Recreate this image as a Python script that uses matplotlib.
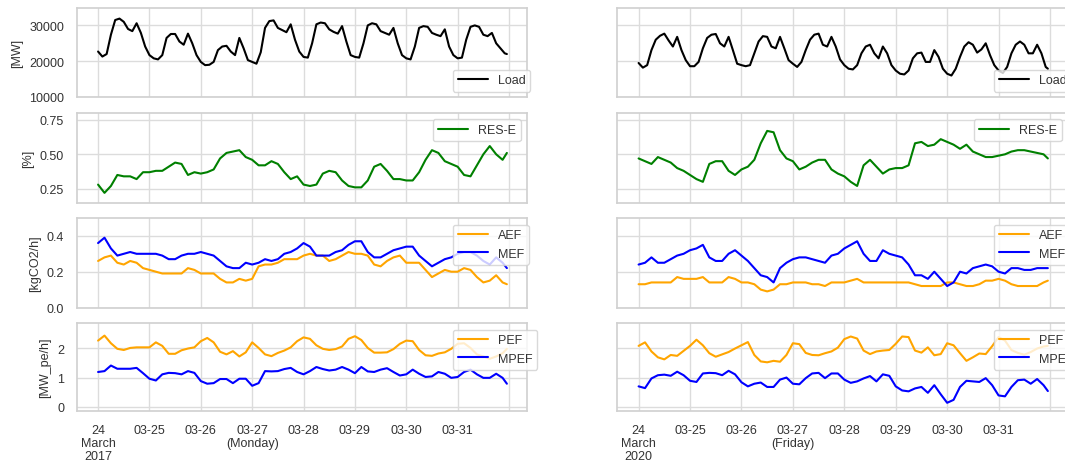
import matplotlib
matplotlib.use('Agg')
import matplotlib.pyplot as plt
import pandas as pd
import seaborn as sns

sns.set_theme(style='whitegrid')
plt.rcParams['font.family'] = ['Liberation Sans', 'DejaVu Sans']

# ---- data (load: 2-hourly, others: 3-hourly, last value = 23:00 Mar 31) ----
load_2017 = [22700, 21300, 22000, 27400, 31500, 31900, 31000, 29000, 28400, 30600, 27900, 24100,
             21700, 20800, 20500, 21700, 26500, 27600, 27600, 25500, 24600, 27700, 25000, 21700,
             19800, 18900, 19000, 19800, 23100, 24100, 24300, 22700, 21700, 26500, 23600, 20300,
             19800, 19300, 22500, 29300, 31200, 31400, 29300, 28700, 28100, 30300, 26000, 22700,
             21200, 21000, 25000, 30300, 30800, 30600, 28900, 28200, 27700, 29800, 25500, 21700,
             21200, 21000, 25000, 30000, 30600, 30300, 28400, 27900, 27400, 29300, 25000, 21700,
             20800, 20500, 24100, 29300, 29800, 29600, 27900, 27400, 27000, 28900, 24100, 21700,
             20800, 21000, 26000, 29600, 30000, 29600, 27400, 27000, 27900, 25000, 23600, 22200,
             22000]
load_2020 = [19500, 18200, 18900, 23100, 26000, 27100, 27700, 25800, 24100, 26800, 23100, 20300,
             18600, 18600, 19800, 23600, 26500, 27400, 27600, 25000, 24100, 26800, 23100, 19300,
             18900, 18600, 18900, 22200, 25500, 27000, 26800, 24100, 23600, 26800, 23600, 20300,
             19300, 18400, 19800, 23100, 26000, 27400, 27700, 24600, 24100, 26800, 24100, 20500,
             18900, 17900, 17700, 18900, 22200, 24100, 24600, 22200, 20800, 24100, 22200, 18900,
             17400, 16500, 16300, 17400, 20800, 22200, 22400, 19800, 19800, 23100, 21200, 17900,
             16500, 16000, 17900, 21200, 24100, 25300, 24600, 22400, 23300, 25000, 21700, 18900,
             17400, 16700, 18400, 22200, 24600, 25500, 24600, 22200, 22200, 24600, 22200, 18400,
             17900]

res_2017 = [.28, .22, .27, .35, .34, .34, .32, .37, .37, .38, .38, .41, .44, .43, .35, .37,
            .36, .37, .39, .47, .51, .52, .53, .48, .46, .42, .42, .45, .43, .37, .32, .34,
            .28, .27, .28, .36, .38, .37, .31, .27, .26, .26, .31, .41, .43, .38, .32, .32,
            .31, .31, .37, .46, .53, .51, .45, .43, .41, .35, .34, .42, .50, .56, .50, .46, .51]
res_2020 = [.47, .45, .43, .48, .46, .44, .40, .38, .35, .32, .30, .43, .45, .45, .38, .35,
            .39, .41, .46, .58, .67, .66, .53, .47, .45, .39, .41, .44, .46, .46, .39, .36,
            .34, .30, .27, .42, .46, .41, .36, .39, .40, .40, .42, .58, .59, .56, .57, .61,
            .59, .57, .54, .57, .52, .50, .48, .48, .49, .50, .52, .53, .53, .52, .51, .50, .47]

aef_2017 = [.26, .28, .29, .25, .24, .26, .25, .22, .21, .20, .19, .19, .19, .19, .22, .21,
            .19, .19, .19, .16, .14, .14, .16, .15, .16, .23, .24, .24, .25, .27, .27, .27,
            .29, .30, .29, .29, .26, .27, .29, .31, .30, .30, .29, .24, .23, .26, .28, .29,
            .25, .25, .25, .21, .17, .19, .21, .20, .20, .22, .21, .17, .14, .15, .18, .14, .13]
mef_2017 = [.36, .39, .33, .29, .30, .31, .30, .30, .30, .30, .29, .27, .27, .29, .30, .30,
            .31, .30, .29, .26, .23, .22, .22, .25, .24, .25, .27, .26, .27, .30, .31, .33,
            .36, .34, .29, .29, .29, .31, .32, .35, .37, .37, .31, .28, .28, .30, .32, .33,
            .34, .34, .29, .26, .23, .25, .27, .28, .30, .31, .31, .29, .26, .24, .28, .25, .22]
aef_2020 = [.13, .13, .14, .14, .14, .14, .17, .16, .16, .16, .17, .14, .14, .14, .17, .16,
            .14, .14, .13, .10, .09, .10, .13, .13, .14, .14, .14, .13, .13, .12, .14, .14,
            .14, .15, .16, .14, .14, .14, .14, .14, .14, .14, .14, .13, .12, .12, .12, .12,
            .14, .14, .13, .12, .12, .13, .15, .15, .16, .15, .13, .12, .12, .12, .12, .14, .15]
mef_2020 = [.24, .25, .28, .25, .25, .27, .29, .30, .32, .33, .35, .28, .26, .26, .30, .32,
            .29, .26, .22, .18, .17, .14, .22, .25, .27, .28, .28, .27, .26, .25, .29, .30,
            .33, .35, .37, .30, .26, .26, .32, .30, .29, .28, .24, .18, .18, .16, .20, .16,
            .12, .14, .20, .19, .22, .23, .24, .23, .20, .19, .22, .22, .21, .21, .22, .22, .22]

pef_2017 = [2.26, 2.43, 2.17, 1.98, 1.94, 2.01, 2.03, 2.03, 2.03, 2.20, 2.08, 1.81, 1.81, 1.93, 1.99, 2.03,
            2.24, 2.35, 2.20, 1.88, 1.79, 1.90, 1.72, 1.86, 2.20, 2.01, 1.79, 1.73, 1.84, 1.92, 2.03, 2.24,
            2.37, 2.32, 2.10, 1.98, 1.94, 1.97, 2.06, 2.32, 2.41, 2.28, 2.01, 1.85, 1.85, 1.86, 1.97, 2.15,
            2.26, 2.24, 1.94, 1.76, 1.74, 1.82, 1.86, 1.98, 2.15, 2.17, 2.01, 1.79, 1.72, 1.64, 1.72, 1.83, 1.98]
mpef_2017 = [1.19, 1.22, 1.41, 1.30, 1.30, 1.30, 1.33, 1.15, 0.96, 0.90, 1.11, 1.16, 1.15, 1.11, 1.22, 1.16,
             0.88, 0.79, 0.81, 0.95, 0.95, 0.81, 0.96, 0.96, 0.72, 0.81, 1.22, 1.21, 1.22, 1.29, 1.33, 1.19,
             1.11, 1.22, 1.36, 1.29, 1.24, 1.27, 1.36, 1.27, 1.15, 1.36, 1.21, 1.19, 1.27, 1.32, 1.19, 1.07,
             1.11, 1.27, 1.13, 1.02, 1.04, 1.19, 1.13, 0.99, 1.02, 1.19, 1.27, 1.11, 0.99, 0.99, 1.13, 0.99, 0.79]
pef_2020 = [2.08, 2.20, 1.89, 1.69, 1.62, 1.77, 1.74, 1.91, 2.08, 2.29, 2.10, 1.83, 1.71, 1.79, 1.87, 1.99,
            2.10, 2.21, 1.77, 1.55, 1.52, 1.57, 1.54, 1.77, 2.17, 2.14, 1.84, 1.77, 1.76, 1.83, 1.89, 2.02,
            2.31, 2.40, 2.33, 1.92, 1.80, 1.89, 1.92, 1.94, 2.15, 2.40, 2.38, 1.92, 1.85, 2.03, 1.76, 1.80,
            2.17, 2.10, 1.83, 1.57, 1.69, 1.82, 1.80, 2.07, 2.38, 2.26, 1.94, 1.84, 1.78, 1.87, 1.99, 2.06, 2.08]
mpef_2020 = [0.70, 0.64, 0.97, 1.08, 1.10, 1.06, 1.20, 1.08, 0.89, 0.85, 1.14, 1.16, 1.15, 1.08, 1.23, 1.11,
             0.84, 0.70, 0.79, 0.83, 0.68, 0.68, 0.93, 1.00, 0.79, 0.77, 0.98, 1.14, 1.16, 0.98, 1.14, 1.14,
             0.93, 0.82, 0.87, 0.97, 1.05, 0.87, 1.11, 1.06, 0.70, 0.56, 0.53, 0.63, 0.68, 0.48, 0.74, 0.43,
             0.14, 0.24, 0.68, 0.89, 0.87, 0.85, 0.98, 0.74, 0.39, 0.36, 0.68, 0.91, 0.93, 0.79, 0.95, 0.74, 0.54]

tick_labels_2017 = ['24\nMarch\n2017', '03-25', '03-26', '03-27\n(Monday)', '03-28', '03-29', '03-30', '03-31', '']
tick_labels_2020 = ['24\nMarch\n2020', '03-25', '03-26', '03-27\n(Friday)', '03-28', '03-29', '03-30', '03-31', '']


def times(year, step):
    start = pd.Timestamp(f'{year}-03-24 00:00')
    idx = pd.date_range(start, periods=192 // step, freq=f'{step}h')
    return idx.append(pd.DatetimeIndex([start + pd.Timedelta(hours=191)]))


columns = [
    (2017, load_2017, res_2017, aef_2017, mef_2017, pef_2017, mpef_2017, tick_labels_2017, 76.5, 450.5),
    (2020, load_2020, res_2020, aef_2020, mef_2020, pef_2020, mpef_2020, tick_labels_2020, 617, 451),
]

rows_px = [(8.5, 98), (114, 203.5), (219, 308.5), (324, 412)]
W, H = 1065, 464
FS = 9

fig = plt.figure(figsize=(W / 100, H / 100), dpi=100)

for ci, (year, load, res, aef, mef, pef, mpef, tlabels, x0, w) in enumerate(columns):
    start = pd.Timestamp(f'{year}-03-24')
    t2 = times(year, 2)
    t3 = times(year, 3)
    panels = [
        ('[MW]', (10000, 35000), [10000, 20000, 30000], ['10000', '20000', '30000'],
         [(t2, load, 'Load', 'black')], 'lower left'),
        ('[%]', (0.15, 0.80), [0.25, 0.5, 0.75], ['0.25', '0.50', '0.75'],
         [(t3, res, 'RES-E', 'green')], 'upper right'),
        ('[kgCO2/h]', (0.0, 0.5), [0.0, 0.2, 0.4], ['0.0', '0.2', '0.4'],
         [(t3, aef, 'AEF', 'orange'), (t3, mef, 'MEF', 'blue')], 'upper left'),
        ('[MW_pe/h]', (-0.14, 2.86), [0, 1, 2], ['0', '1', '2'],
         [(t3, pef, 'PEF', 'orange'), (t3, mpef, 'MPEF', 'blue')], 'upper left'),
    ]
    for ri, (ylabel, ylim, yt, ytl, series, loc) in enumerate(panels):
        top, bot = rows_px[ri]
        hpx = bot - top
        ax = fig.add_axes([x0 / W, 1 - bot / H, w / W, hpx / H])
        for t, vals, name, color in series:
            ax.plot(t, vals, color=color, lw=1.5, label=name)
        ax.set_xlim(start - pd.Timedelta(days=0.42), start + pd.Timedelta(days=8.35))
        ax.set_ylim(*ylim)
        ax.set_yticks(yt)
        ax.set_xticks(pd.date_range(start, periods=9, freq='D'))
        ax.grid(True, color='#dcdcdc', lw=1.0)
        for s in ax.spines.values():
            s.set_color('#d0d0d0')
            s.set_linewidth(1.2)
        ax.tick_params(length=0, pad=9, labelsize=FS, labelcolor='#333333')
        if ci == 0:
            ax.set_yticklabels(ytl)
            ax.set_ylabel(ylabel, fontsize=FS, color='#333333')
        else:
            ax.tick_params(labelleft=False)
        if ri == 3:
            ax.set_xticklabels(tlabels, linespacing=1.15)
        else:
            ax.tick_params(labelbottom=False)
        if loc == 'lower left':
            leg = ax.legend(loc=loc, bbox_to_anchor=(0.835, 5.5 / hpx), borderaxespad=0,
                            fontsize=FS, framealpha=0.8, handlelength=2.4)
        elif loc == 'upper left':
            leg = ax.legend(loc=loc, bbox_to_anchor=(0.835, 1 - 6.5 / hpx), borderaxespad=0,
                            fontsize=FS, framealpha=0.8, handlelength=2.4)
        else:
            leg = ax.legend(loc=loc, fontsize=FS, framealpha=0.8, handlelength=2.4)
        leg.get_frame().set_edgecolor('#d0d0d0')
        for txt in leg.get_texts():
            txt.set_color('#333333')

fig.savefig('out.png', dpi=100)
